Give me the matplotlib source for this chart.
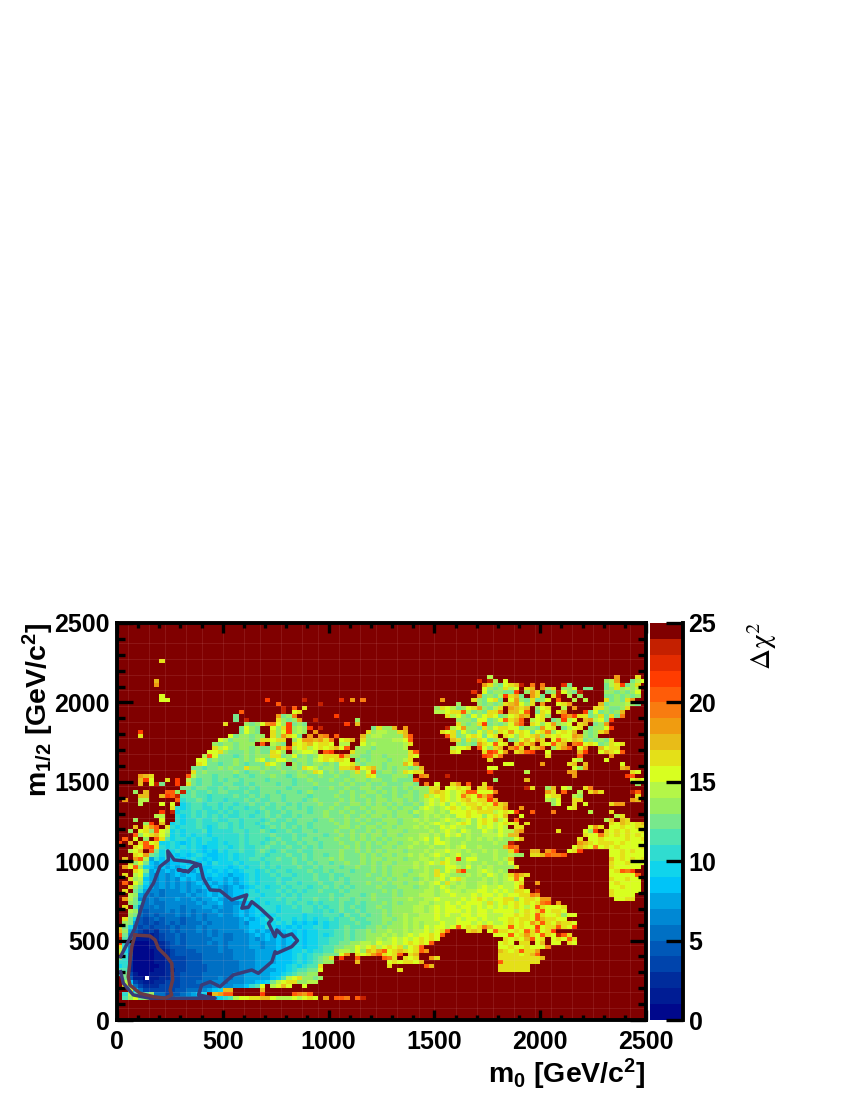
import numpy as np
import matplotlib
matplotlib.use("Agg")
import matplotlib.pyplot as plt
from matplotlib.colors import ListedColormap, BoundaryNorm

plt.rcParams['font.family'] = ['Liberation Sans', 'DejaVu Sans']
plt.rcParams['mathtext.fontset'] = 'custom'
plt.rcParams['mathtext.rm'] = 'Liberation Sans:bold'
plt.rcParams['mathtext.bf'] = 'Liberation Sans:bold'
plt.rcParams['mathtext.default'] = 'rm'

LEVEL_CODES = "0123456789abcdefghijklmno."
LEVEL_COLOURS = ["#00088c", "#001c94", "#002c9c", "#0044ac", "#0058b8", "#0070c4", "#0088d4",
                 "#00a4e4", "#00c4f8", "#10d4ec", "#30dcd0", "#50e4b0", "#78e88c", "#98ee60",
                 "#b4f648", "#d8ff20", "#e4e018", "#e8bc18", "#f09c10", "#f87c10", "#ff5c08",
                 "#ff3c00", "#e42c00", "#c42000", "#800000"]
N_BINS = 100
M0_MAX = 2500
M12_MAX = 2500

# Delta chi2 per bin: row index counts from the top, "start:codes" runs of levels
CHI2_ROWS = {
 9: "8:g",
 13: "70:e 94:i 98:g",
 14: "7:h 68:m 70:ne 73:f 92:dei 96:.cef",
 15: "7:i 69:igdcf 74:ghe 76:n 78:j 80:j 84:mc 92:ceg 95:lcdg",
 16: "69:fdcdg 74:ef 77:gh 80:ieg 84:ddf 88:cc 91:.cdgdede",
 17: "67:m 69:fcddc 74:cl 77:dig 81:cdf 83:nf 85:dcn 92:ddcdcdf",
 18: "8:f 68:icdce 73:lghc 78:igc 82:gn 85:e 87:d 92:ccdcdcd",
 19: "8:ff 28:l 35:n 42:m 44:i 46:j 61:i 67:gd 69:cfgc 74:fidc 78:gcdf 83:k 86:e 88:e 92:gcdcgi",
 20: "30:k 38:n 64:d 68:dcdcdgh 75:ifdg 80:i 83:fgi 91:hcdddedc",
 21: "31:n 33:k 35:g 60:dgf 63:ecd 66:fg 68:idceg 74:ihgh 79:dfg 84:e 86:i 90:ggdccdg",
 22: "23:k 31:n 33:fg 60:eef 63:ggk 66:ecd 69:cggj 74:hhfk 79:cgf 83:gi 88:lc 90:fcdcdh",
 23: "22:c 30:i 31:cd 33:j 41:l 62:g 63:e 64:fdcfdf 70:gfcdfg 76:ih 79:fgd 84:ki 86:lg 88:gc 90:dgcgcj",
 24: "22:c 24:n 30:gdcd 34:i 37:n 45:d 64:dddcffd 70:cdfk 74:ghk 78:efg 82:cdlef 88:hi 90:efcl",
 25: "20:g 24:dcdf 28:ij 30:fdlc 34:dc 43:l 45:h 64:gdcdglc 71:dcdfik 78:gfdfi 83:def 87:gh 90:cdi",
 26: "23:cfdc 29:fdgld 34:ed 36:l 38:n 48:cgddh 54:i 62:n 63:efi 66:ddcgdf 72:ggffcd 78:dcifg 84:cefg 89:cddfl",
 27: "4:l 23:cfdc 29:gdfld 34:ed 37:i 47:gdeeddgh 61:gf 63:gcfdcf 69:dgdgfif 76:gfcfgj 82:dfgfh 88:dcdgi",
 28: "4:g 21:fcddcdd 29:gdig 33:fc.i 38:ij 41:k 46:hdeeddddh 55:k 62:k 63:gcdfg 68:fcfg 73:gfdgf 78:ghdgfgf 85:fihdcd",
 29: "19:fecdddcd 27:gg 29:fg 31:g 33:dfi 36:ihi 39:gj 42:fgh 46:gdddddeefk 63:hgcgd 68:gfcdg 74:cdfhf 79:ig 82:fkgf 86:hg 88:cdcdcg",
 30: "18:dcddcddd 27:k 29:edc 33:gf 35:ghf 38:ggf 41:.ee 46:fdedddddeg 63:.dcdc 68:i 69:gfkfg 75:gjgi 80:gfkgh 86:jkfgf 91:cdgfg",
 31: "18:gefdcddcdccd 30:igk 33:efgefgf 40:ghfk 45:dddcddddde 63:ef 65:fg 68:kf 70:dgh 74:ikg 78:ghj 82:dgik 87:fi 91:hfgg",
 32: "17:ffgdcccdcdcc 29:gfd 33:deffe 39:kl 44:gddcdddddddgk 63:gf 69:gl 71:kfi 75:ghkl 81:f 87:hl 91:fhgfk",
 33: "16:ekfcccbcdcdddgg 31:cdf 34:cdcdfg 40:ggl 43:h 44:ddccddcdddd 55:gf 69:lk 71:gj 81:g 87:k 93:i",
 34: "15:ffcdcccdcdcefcdffd 33:cddcefgfg 42:gf 45:cdcdddcddeg 70:g 86:fe 92:f",
 35: "15:gfccbccdcbcccgfdc 33:dcdcddcdcffg 45:dcdddcdddhf 56:j 73:ff 80:i 85:gh 88:h 95:f",
 36: "14:ccbccd 20:cdccgddcdc 30:dccdcgfecd 40:dcgghkfghd 50:cdcddcdh 70:ff 86:fd 88:i 95:hi",
 37: "14:gcdccc 20:ccdcbccdcc 30:cdccdcdgfc 40:dcdcdgdfkc 50:ddcdgfgg 70:l 77:e 85:ii 97:gf",
 38: "4:ihg 13:kecccbc 20:ccbccbcccd 30:ccbcddccdc 40:cdccdddgfc 50:ccdddc 57:ji 62:n 86:i 96:lk",
 39: "4:hlf 9:g 11:l 13:ecbccbc 20:bccbccccbc 30:cccbccdccc 40:dccdcddcdd 50:ccdccc 56:k 71:d 77:h 97:fgf",
 40: "4:h.f 7:n 8:c 11:l 13:gcbccbb 20:ccbbcbcccc 30:bccbcccdcc 40:ccdcdccdcc 50:dcccddc 58:j 60:f 63:gi 66:k 69:g 98:d",
 41: "12:ccbccbbc 20:bccbbcbccc 30:ccbccccbcc 40:dccdccddcd 50:ccdcdcdd 58:dgg 62:ffgfg 68:ggk 77:ng 81:dh 84:fe 88:gj",
 42: "3:d 5:h 8:.k 10:kdn 12:nbcbbcbc 20:cbbbcbbccc 30:bcccbcdccc 40:ccdcdccddc 50:dcdccdcdd 59:ghgfefgkk 68:fff 71:j 81:ig 84:k 87:e 89:gig 97:nk",
 43: "4:hh 8:hlkn 12:bbcbbabb 20:bbcbbcbcbc 30:cbccccbccc 40:cdccdcdccd 50:ccdcddcdge 60:fgfefjgfkh 70:k 81:fgg 86:ed 98:g",
 44: "1:i 4:ee 11:k 12:abbcbabb 20:abbbcbcbbc 30:cbcccbcdcc 40:ccdcdccdcd 50:dcddcdcdef 60:egfefghfgg 70:lh 81:edf 86:gg 97:ih",
 45: "4:e 8:f 10:f 12:9abbabba 20:bbabbcbbcb 30:ccbcbcccdc 40:cdccddcdcd 50:cdcdccdcef 60:efdfefggfg 70:fkgh 82:df 86:g 88:f 93:g 94:ii",
 46: "10:g 11:a9abbaaba 20:babbabbcbb 30:cbccbcbccc 40:dccdccdcdd 50:dcdcddcefe 60:defgfefghf 70:gg 72:gi 76:i 85:fg",
 47: "8:l 10:n 11:9aababaab 20:ababbbabcb 30:bcbcccbccd 40:ccdcdccdcd 50:ddcddcedee 60:dedfffgfgg 70:gefgfl 78:k 82:j 89:e 93:g",
 48: "7:ee 11:a9abababa 20:baabbabbcb 30:cbbcbccccd 40:cccdccdcdd 50:cdcdddcded 60:ededffgffd 70:fgfh 76:f 94:eg",
 49: "3:d 8:f 11:a9aabaaba 20:abbabbbabc 30:bbcbcccbcc 40:dccdcdcdcc 50:dddcddeded 60:defedefdfg 70:fhef 75:k 92:eh 95:hg",
 50: "5:dl 8:h 10:9a9aabaaab 20:bababbabcb 30:bcbbccbccc 40:cdcdccdccd 50:cddcdddede 60:fedefgfdfg 70:fefgf 75:g 77:g 93:gfhgfghk",
 51: "3:h 5:gik 9:ga9aaaba9ab 20:bababbbabc 30:bcbcbcbccc 40:ccddcdcddc 50:ddcdddeded 60:dfefeeddfe 70:fefe 75:gg 89:fig 93:ffgffgg",
 52: "2:d 4:fgdkf 9:e9a9aaab9aa 20:aabbabbcba 30:bbcbbccbcc 40:cdccdccdcd 50:cdddcdddde 60:defedfeddf 70:edfee 75:hi 83:g 88:fdl 92:gfgfgffgg",
 53: "3:kdf 6:gh 8:fd9a9a9aa9aa 20:aaababbbbc 30:bbbcbbcccb 40:ccdcdcdcdd 50:cddcdddeed 60:edfefdedde 70:eefe 74:hh 88:gf 90:fjgfgfgfgfl",
 54: "1:k 3:f 5:d 7:kg 9:b9aa9a9aa9a 20:aaababbbab 30:cbbcbccbcc 40:cdccdcdcdc 50:dcdddedefd 60:fdedddeded 70:eded 74:dfh 87:g 89:ffgffffgffgg",
 55: "0:l 2:h 4:gkf 7:g 8:99a989a9a99a 20:9aababbabc 30:bcbbcbccbc 40:ccdccdcdcd 50:cddcddeded 60:ffeddedddd 70:dedd 74:n 87:ih 89:gfgggfgffff",
 56: "3:gfk 6:lg 8:a9a9a9a9899a 20:a9abaabbcb 30:bbcbbcbcbc 40:cccdcdcdcc 50:ddcddeddde 60:ddedefdded 70:dddh 74:kj 86:fh 88:gfj 91:fgfgffffg",
 57: "2:ef 4:h 6:k 7:c9a9a99a9898a 20:9aabaabcba 30:bcbbcbbccc 40:ccdccdcdcd 50:cdddcddded 60:eefeededde 70:dedd 74:gl 78:hh 81:ik 85:fgl 93:ffgfgff",
 58: "3:gf 5:i 6:cb9a98989a9889 20:9a9aaabbab 30:bbcbbcbccb 40:ccdcccdcdc 50:ddcddedede 60:fedefddedd 70:dedde 75:dd 78:gghk 82:jjk 93:ffgffff",
 59: "1:h 3:ik 5:e7a8a8989a98989 20:9a9aabbabb 30:cbbcbcbccc 40:dcdcccdcdd 50:cdddcddeed 60:edfeldffdd 70:dede 74:h 93:hfgfgfg",
 60: "2:gdf 5:c878788989898a9 20:99a9aaabab 30:bbbcbbcbcc 40:bccdccdcdc 50:ddcdddedef 60:egfeddedde 70:dded 74:f 93:gffgfff",
 61: "1:i 2:fk 4:d987878789898899 20:989a9aabab 30:abbbcbbcbc 40:ccbccdccdc 50:dcddddeded 60:ddffedfded 70:edddd 75:g 93:gfffff",
 62: "3:gf 5:c78787888798989 20:8989aa9aba 30:bbabbbcbbc 40:bcccbcccdc 50:dcdddcdded 60:gdfeilddef 70:eded 93:fgkj 97:l",
 63: "1:g 3:ef 5:a76767878878898 20:87889a9aab 30:abbabbbcbb 40:cbbccccdcc 50:dcddcddeed 60:gfedddeded 70:fede 74:gj 76:h 77:g 93:fffffk",
 64: "2:gd 4:e876767687878788 20:78789a9aaa 30:baabbbbcbb 40:cbcbcccccd 50:cdcdddcded 60:efdfgeddde 70:dedef 75:jf 93:gffgff",
 65: "1:k 3:f 4:d976767676787878 20:78789a9aaa 30:babbabbbcb 40:bccbcccdcc 50:dcddcddede 60:fdgededdee 70:dedee 75:fg 79:i 93:fgffff",
 66: "2:gd 4:b876767676778787 20:678789aa9a 30:ababbbabbc 40:bcbcbccccd 50:cccdddcdde 60:dfedeeddef 70:eefeef 76:j 93:ffgfff",
 67: "1:g 3:c 4:a766566676767878 20:67889a9aaa 30:babababbcb 40:bbcbcccccc 50:dcdcddddee 60:defeedeeff 70:efefe 75:ggf 79:n 93:gfffff",
 68: "2:ed 4:7656566667677878 20:67889aa9aa 30:abababbbbb 40:cbbcccbcdc 50:ccdcdddeee 60:deefeeefef 70:fefeffg 77:gji 93:gffff",
 69: "1:i 2:ec 4:6565666766767787 20:6789aa9aaa 30:babbabbcbb 40:cbccbcccdc 50:ccdddeddee 60:feeeefefgf 70:effggdfggf 80:ii 94:ffgg",
 70: "2:dc 4:a565566666676778 20:6667889a9a 30:aababbabab 40:bbcbbcbccc 50:dcdcdddeed 60:eefefefffe 70:gefgfgfgfg 80:jk 83:i",
 71: "1:g 3:b 4:6556566656667767 20:6678789aaa 30:9aababbaba 40:bbcbcbbccd 50:ccddddeede 60:feffeffefe 70:fefefgfefk 80:gfff 84:g",
 72: "2:ed 4:5455565656566676 20:66787899aa 30:9aaaabbaab 40:abcbbcbccc 50:dcddddeede 60:fefffefeff 70:effffefgfg 80:kfggf",
 73: "2:dc 4:5454555656565667 20:6678789899 30:aaaaa9aaab 40:bbacbbcbcc 50:dcddeddeee 60:fefeeffeff 70:eeeffgfgfk 80:gffgdff",
 74: "1:g 2:c9 4:4345455545565666 20:66678789aa 30:9aa9a9a9aa 40:babbcbbccc 50:ddcdedeeee 60:feeefeffef 70:eeffgfggfk 80:hggff",
 75: "1:dc 3:7 4:4343454545556566 20:6667688999 30:a9a89898a9 40:aabbbcbbcc 50:dcddededee 60:efeefffefe 70:feefgfgfig 80:kgfhgg 86:f",
 76: "0:g 1:c 2:9 3:5 4:3434445455565666 20:66677888a9 30:8989899aa9 40:aabcbbbccd 50:cdddededfe 60:ffefk 65:f 66:gf 68:gjhfgg 72:ffkf 76:gffl 80:fggkgfl",
 77: "0:h 1:d 2:7 3:4 4:3232445455565656 20:66667878 28:7878989899 38:aaabbcbccd 48:cddeddedee 58:fefgk 66:ghg 70:fkgg 74:fgfkgkfgl",
 78: "0:k 1:c 2:6 3:3 4:2212344545555656 20:55666787 28:8787989899 38:a9abbcbccd 48:ddededefef 58:fgfk 71:fffkfgi 78:gfkgfnkg",
 79: "0:n 1:b 2:6 3:1 4:1112344545555566 20:55666767 28:8787899899 38:aabbbcbccd 48:dedefefefg 58:fgf 73:gfgf 77:hkfg 82:fgfkg",
 80: "0:l 1:a 2:6 3:0 4:0011234545555656 20:56666776 28:7787889899 38:aabbccddee 48:dfeefefgfg 58:fk 72:fgf 76:gg 79:fh 82:ff 85:gf",
 81: "0:g 1:a 2:5 3:0 4:0011234445555556 20:56666776 28:7787899899 38:abbccddfef 48:gefgfgdfgk 72:ffgffgfff 81:j",
 82: "0:e 1:9 2:5 3:0 4:0001123444455556 20:55666677 28:7788899a9a 38:abbdeedfdh 48:gikfghgfgk 58:i 72:hgfgkgg 79:i",
 83: "0:h 1:a 2:4 3:0 4:0001123444445555 20:55666677 28:778889a9ab 38:bcccfi.gfg 48:ikgfgk.gh 72:ggggfgh 79:k",
 84: "0:c 1:a 2:3 3:0 4:0001123334445555 20:55666677 28:778889a9ab 38:cdg 42:l 45:k 50:kj 52:g 54:gf 56:g 59:ig 72:ggggggggh",
 85: "0:a 1:a 2:2 3:0 4:0001123334445555 20:55566677 28:778889a9ab 38:cdd 45:h 51:fgf 54:ggfh 72:kggggggg",
 86: "0:9 1:a 2:2 3:0 4:0000123334444555 20:55566677 28:78889a9abb 38:g 51:g 58:kh 72:gggggg",
 87: "0:b 1:b 2:2 3:0 4:0001122334444555 20:55566677 28:77889abbcc 38:f 53:g 72:gggggg",
 88: "0:a 1:c 2:3 3:1 4:0011123344445555 20:55667777 28:7889abccdd",
 89: "1:c 2:4 3:1 4:1011223344445556 20:55667777 28:789befgddc 38:d",
 90: "1:e 2:8 3:3 4:2112233344455566 20:56667788 28:9cefggddee",
 91: "1:g 2:b 3:5 4:3222333344445567 20:66778abf 28:.efh 32:f 35:f",
 92: "2:f 3:8 4:5333333445556789bd 20:hh 27:h",
 93: "1:a 2:e 3:b 4:8 5:b 6:d 7:553 10:4456 14:789 18:h 19:ik 21:k 27:l 33:k 34:ji 36:k",
 94: "1:b 2:d 3:f 4:c 5:d 6:5 7:44556 12:6777 16:88 18:8 19:9 20:a 21:b 22:ef 24:fgg 27:hh 29:f 30:ee 32:efefg 37:f 39:i 41:kkj 45:k 46:n",
}

# Confidence contours and the best fit point
BLUE_M0 = [17, 85, 132, 172, 203, 243, 240, 270, 345, 393, 361, 337, 290, 337, 361, 393, 408, 440, 487, 542, 613, 590, 621,
           637, 676, 732, 716, 747, 755, 787, 826, 853, 826, 755, 747, 732, 668, 637, 550, 487, 440, 400, 385, 464, 156, 77, 30, 17]
BLUE_M12 = [399, 578, 777, 861, 966, 1008, 1065, 1008, 997, 977, 966, 934, 945, 934, 966, 977, 893, 819, 815, 756, 788, 704, 710,
            745, 704, 634, 609, 525, 567, 525, 542, 500, 462, 420, 430, 367, 294, 315, 284, 210, 241, 220, 158, 137, 137, 158, 231, 304]
BROWN_M0 = [85, 156, 180, 195, 235, 259, 263, 251, 259, 227, 172, 109, 61, 53, 70, 85]
BROWN_M12 = [535, 529, 504, 452, 399, 357, 252, 189, 158, 137, 147, 168, 220, 273, 462, 535]
BEST_FIT_M0 = [140]
BEST_FIT_M12 = [263]
TICKS_MAJOR = [0, 500, 1000, 1500, 2000, 2500]
CBAR_TICKS = [0, 5, 10, 15, 20, 25]
SEAM_BINS_X = [2, 6, 9, 13, 16, 20, 24, 27, 31, 35, 38, 42, 46, 49, 53, 57, 60, 64, 68, 71, 75, 79, 82, 86, 90, 93, 97]
SEAM_BINS_Y = [3, 7, 11, 15, 19, 23, 27, 31, 35, 39, 43, 47, 51, 55, 59, 63, 67, 71, 75, 79, 83, 87, 91, 95]


def build_grid():
    grid = np.full((N_BINS, N_BINS), 24.5)
    for row, text in CHI2_ROWS.items():
        for token in text.split(" "):
            if ":" not in token:
                continue
            start, codes = token.split(":")
            for i, ch in enumerate(codes):
                col = int(start) + i
                if col < N_BINS and ch in LEVEL_CODES:
                    grid[N_BINS - 1 - row, col] = min(LEVEL_CODES.index(ch) + 0.5, 24.5)
    return grid


fig = plt.figure(figsize=(8.5, 11), dpi=100)
W, H = 850.0, 1100.0
ax = fig.add_axes([117 / W, 1 - 1020 / H, 529 / W, 397 / H])
cax = fig.add_axes([650 / W, 1 - 1020 / H, 33 / W, 397 / H])

cmap = ListedColormap(LEVEL_COLOURS)
norm = BoundaryNorm(np.arange(0, 26), cmap.N)
edges_x = np.linspace(0, M0_MAX, N_BINS + 1)
edges_y = np.linspace(0, M12_MAX, N_BINS + 1)
ax.pcolormesh(edges_x, edges_y, build_grid(), cmap=cmap, norm=norm, linewidth=0, rasterized=True)

for b in SEAM_BINS_X:
    ax.axvline(edges_x[b], color='#ffc0c0', lw=0.6, alpha=0.13, zorder=1.5)
for b in SEAM_BINS_Y:
    ax.axhline(edges_y[b], color='#ffc0c0', lw=0.6, alpha=0.13, zorder=1.5)

ax.plot(BLUE_M0, BLUE_M12, color="#3a3c78", lw=2.5, solid_joinstyle='round')
ax.plot(BROWN_M0, BROWN_M12, color="#6a3a46", lw=2.5, solid_joinstyle='round')
ax.plot(BEST_FIT_M0, BEST_FIT_M12, ls='none', marker='s', ms=3.2, color='white', mew=0)

ax.set_xlim(0, M0_MAX)
ax.set_ylim(0, M12_MAX)
ax.set_xticks(TICKS_MAJOR)
ax.set_yticks(TICKS_MAJOR)
ax.set_xticks(np.arange(0, 2501, 100), minor=True)
ax.set_yticks(np.arange(0, 2501, 100), minor=True)
ax.tick_params(axis='x', which='major', direction='in', length=7.5, width=2.4, top=True, bottom=True, labelsize=18, pad=7)
ax.tick_params(axis='x', which='minor', direction='in', length=3.8, width=2.4, top=True, bottom=True)
ax.tick_params(axis='y', which='major', direction='in', length=11.5, width=2.4, left=True, right=True, labelsize=18, pad=5)
ax.tick_params(axis='y', which='minor', direction='in', length=5.8, width=2.4, left=True, right=True)
for s in ax.spines.values():
    s.set_linewidth(2.8)
ax.grid(False)
plt.setp(ax.get_xticklabels() + ax.get_yticklabels(), fontweight='bold')

levels = np.arange(0, 26)
cax.pcolormesh([0, 1], levels, (levels[:-1] + 0.5).reshape(-1, 1), cmap=cmap, norm=norm, linewidth=0)
cax.set_xlim(0, 1)
cax.set_ylim(0, 25)
cax.set_xticks([])
cax.yaxis.tick_right()
cax.set_yticks(CBAR_TICKS)
cax.tick_params(axis='y', direction='in', length=12, width=2.4, labelsize=18, pad=4)
plt.setp(cax.get_yticklabels(), fontweight='bold')
for name, s in cax.spines.items():
    s.set_visible(name == 'right')
    s.set_linewidth(2.8)

fig.text(646 / W, 1 - 1083 / H, r'm$_{0}$ [GeV/c$^{2}$]', ha='right', va='baseline', fontsize=20.5, fontweight='bold')
fig.text(38 / W, 1 - 623 / H, r'm$_{1/2}$ [GeV/c$^{2}$]', ha='center', va='top', rotation=90, fontsize=20.5, fontweight='bold')
fig.text(762 / W, 1 - 622 / H, r'$\Delta\chi^{2}$', ha='center', va='top', rotation=90, fontsize=21,
         fontweight='normal', math_fontfamily='stix')

fig.savefig("out.png", dpi=100)
